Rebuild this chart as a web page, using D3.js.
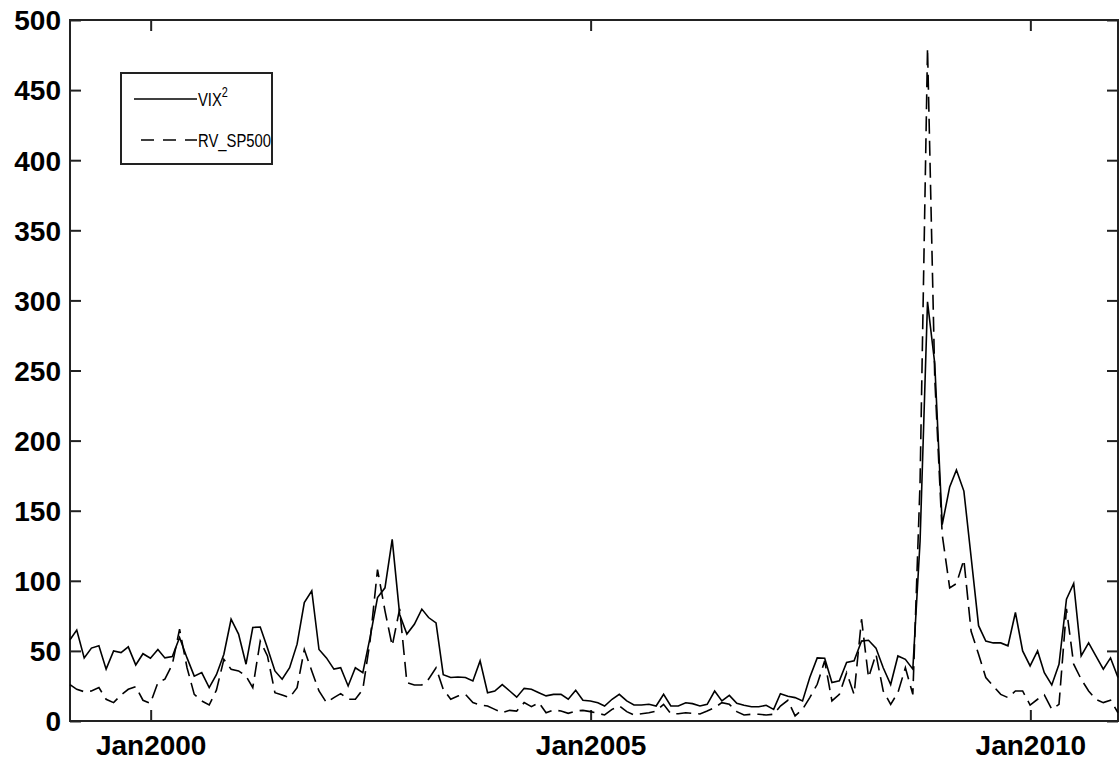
<!DOCTYPE html>
<html>
<head>
<meta charset="utf-8">
<script src="https://cdn.jsdelivr.net/npm/d3@7"></script>
<style>
	html, body { margin: 0; padding: 0; background: #fff; }
	svg { display: block; }
	.tick text { font-family: "Liberation Sans", Arial, sans-serif; font-weight: bold; font-size: 28px; fill: #000; }
	.legend text { font-family: "Liberation Sans", Arial, sans-serif; font-size: 19px; fill: #000; }
</style>
</head>
<body>
<div id="chart"></div>
<script>
// monthly observations, Jan 1999 .. Dec 2010 (month end)
var firstMonth = new Date(1999, 0, 1),
	lastMonth = new Date(2010, 11, 1);

var vix2 = [
	58, 64.8, 45, 52, 53.6, 37, 50, 48.8, 52.9, 40, 48, 44.8,
	51, 45, 46, 59.5, 45, 32, 34.5, 23.8, 33, 47.6, 72.6, 62,
	40.5, 66.7, 67, 52, 35.7, 29.8, 38, 54.8, 84.5, 92.9, 51, 45,
	37, 38, 25, 38, 34.5, 59.5, 88, 95, 129.5, 76, 62, 69,
	79.8, 73.8, 70, 33, 31, 31.4, 31, 28.6, 42.9, 20.2, 21.4, 26,
	21.4, 17, 23.3, 22.6, 20.2, 17.9, 19, 19, 15.5, 21.9, 14.8, 14.3,
	13, 10.7, 15.5, 19, 14.3, 11.4, 11.4, 11.9, 10.7, 19, 10.7, 10.7,
	13, 12.4, 10.7, 11.9, 21.4, 14.3, 18.3, 12.6, 11.2, 10.2, 10.2, 11.2,
	8.3, 19.5, 17.6, 16.7, 14.3, 31, 45, 44.8, 27.4, 28.6, 41.7, 42.9,
	57, 57.6, 52, 38, 26, 46.4, 44, 37, 128, 299, 255, 140,
	167, 179, 164, 117, 68, 57, 55.7, 55.7, 53.6, 77.4, 50, 39.3,
	50, 34.5, 25.7, 40.5, 86.9, 98.1, 46.4, 55.7, 46.4, 36.9, 45, 31
];

var rvSp500 = [
	26, 22.6, 20.9, 21.4, 23.8, 15.5, 13.1, 18.6, 22.6, 24.5, 14.8, 12.6,
	27.4, 29.8, 40.5, 65.5, 38, 19, 14.3, 11.4, 22, 44, 36.9, 35.7,
	32, 23.8, 57, 46.4, 20.2, 18.6, 16.7, 23.8, 51, 35.7, 21.4, 13.1,
	16.7, 19.5, 15.5, 15.5, 22.6, 57, 108, 78.6, 53.6, 80, 27.4, 25.7,
	25.7, 29.8, 38, 22.6, 15.5, 17.9, 19, 13.1, 11.4, 10.7, 8.3, 5.9,
	7.6, 7.1, 13.1, 10.2, 13.1, 5.9, 7.9, 7.1, 5.5, 7.1, 7.6, 6.7,
	5.5, 4.3, 8.3, 10.7, 6.7, 4.3, 5.2, 5.9, 7.1, 11.9, 5.2, 5.2,
	5.9, 5.5, 5, 7.1, 9.5, 13.1, 11.9, 6.7, 4.3, 4.8, 4.8, 4.3,
	4.8, 10.7, 14.8, 3.6, 8.3, 16.7, 26.2, 42.9, 14.3, 19, 34.5, 19,
	72.6, 31, 47.6, 21.4, 11.9, 20.2, 38, 19, 170, 480, 245, 133,
	95, 98, 115, 64, 47.6, 31, 25, 19, 16.7, 21.4, 21.4, 11.4,
	15.5, 18.6, 8.3, 11.9, 80, 40.5, 29.8, 21.4, 15.5, 13.1, 14.8, 5.9
];

var xTickDates = [new Date(2000, 0, 1), new Date(2005, 0, 1), new Date(2010, 0, 1)];
var yTicks = [0, 50, 100, 150, 200, 250, 300, 350, 400, 450, 500];
var seriesNames = ["VIX", "RV_SP500"];

drawChart();

function drawChart() {
	var W = 1120, H = 763,
		margin = { top: 20, right: 2, bottom: 42, left: 70 },
		width = W - margin.left - margin.right,
		height = H - margin.top - margin.bottom;

	// month-end dates
	var months = d3.timeMonth.range(firstMonth, d3.timeMonth.offset(lastMonth, 1))
		.map(function (d) { return d3.timeDay.offset(d3.timeMonth.offset(d, 1), -1); });

	var svg = d3.select("#chart").append("svg")
		.attr("width", W).attr("height", H)
		.append("g")
		.attr("transform", "translate(" + margin.left + "," + margin.top + ")");

	var x = d3.scaleTime()
		.domain([months[0], months[months.length - 1]])
		.range([0, width]);
	var y = d3.scaleLinear().domain([0, 500]).range([height, 0]);

	var fmt = d3.timeFormat("%b%Y");

	// axes, ticks pointing inwards on all sides
	var gx = svg.append("g")
		.attr("transform", "translate(0," + height + ")")
		.call(d3.axisBottom(x).tickValues(xTickDates).tickFormat(fmt).tickSizeInner(-11).tickSizeOuter(0).tickPadding(14));
	var gy = svg.append("g")
		.call(d3.axisLeft(y).tickValues(yTicks).tickSizeInner(-11).tickSizeOuter(0).tickPadding(9));
	svg.append("g")
		.call(d3.axisTop(x).tickValues(xTickDates).tickFormat("").tickSizeInner(-11).tickSizeOuter(0));
	svg.append("g")
		.attr("transform", "translate(" + width + ",0)")
		.call(d3.axisRight(y).tickValues(yTicks).tickFormat("").tickSizeInner(-11).tickSizeOuter(0));

	svg.selectAll(".domain").remove();
	svg.selectAll(".tick line").attr("stroke", "#222").attr("stroke-width", 2);
	gy.selectAll(".tick text").attr("dy", "0.35em");
	gx.selectAll(".tick text").attr("dy", "0.71em");

	svg.append("rect")
		.attr("x", 0).attr("y", 0)
		.attr("width", width).attr("height", height)
		.attr("fill", "none")
		.attr("stroke", "#222")
		.attr("stroke-width", 2);

	var line = d3.line()
		.x(function (d, i) { return x(months[i]); })
		.y(function (d) { return y(d); });

	svg.append("path")
		.datum(rvSp500)
		.attr("fill", "none")
		.attr("stroke", "#000")
		.attr("stroke-width", 1.6)
		.attr("stroke-dasharray", "15,7")
		.attr("d", line);

	svg.append("path")
		.datum(vix2)
		.attr("fill", "none")
		.attr("stroke", "#000")
		.attr("stroke-width", 1.6)
		.attr("d", line);

	// legend
	var lg = svg.append("g").attr("class", "legend").attr("transform", "translate(51,53)");
	lg.append("rect")
		.attr("width", 151).attr("height", 91)
		.attr("fill", "#fff")
		.attr("stroke", "#222")
		.attr("stroke-width", 2);
	lg.append("line")
		.attr("x1", 13).attr("x2", 76).attr("y1", 26).attr("y2", 26)
		.attr("stroke", "#000").attr("stroke-width", 1.6);
	lg.append("line")
		.attr("x1", 20).attr("x2", 76).attr("y1", 67).attr("y2", 67)
		.attr("stroke", "#000").attr("stroke-width", 1.6)
		.attr("stroke-dasharray", "13,9");

	// text is narrower in the original, squeeze it horizontally
	var lt = lg.append("g").attr("transform", "translate(77,0) scale(0.78,1)");
	var t1 = lt.append("text")
		.attr("x", 0).attr("y", 33);
	t1.append("tspan").text(seriesNames[0]);
	t1.append("tspan").attr("dy", -9).style("font-size", "14px").text("2");

	lt.append("text")
		.attr("x", 0).attr("y", 74)
		.text(seriesNames[1]);
}
</script>
</body>
</html>
